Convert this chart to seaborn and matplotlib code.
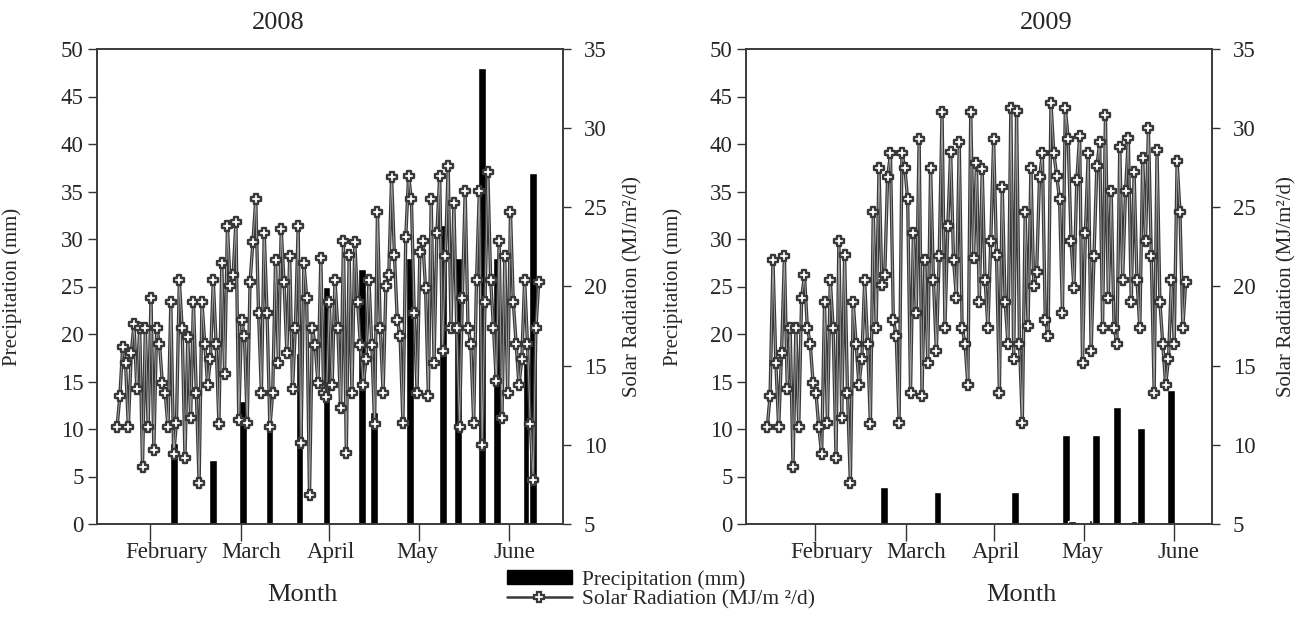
import numpy as np
import pandas as pd
import matplotlib
matplotlib.use("Agg")
import matplotlib.pyplot as plt
import seaborn as sns
from matplotlib.patches import Patch
from matplotlib.lines import Line2D

# daily solar radiation (MJ/m2/d) left to right
solar_2008 = [
    11.1, 13.1, 16.2, 15.2, 11.1, 15.8, 17.6, 13.5, 17.4, 8.6, 17.4, 11.1, 19.3, 9.7,
    17.4, 16.4, 13.9, 13.3, 11.1, 19.0, 9.4, 11.4, 20.4, 17.4, 9.2, 16.8, 11.7, 19.0,
    13.3, 7.6, 19.0, 16.4, 13.8, 15.4, 20.4, 16.4, 11.3, 21.5, 14.5, 23.8, 20.0, 20.7,
    24.1, 11.6, 17.9, 16.9, 11.4, 20.3, 22.8, 25.5, 18.3, 13.3, 23.4, 18.3, 11.1, 13.3,
    21.7, 15.2, 23.6, 20.3, 15.8, 21.9, 13.5, 17.4, 23.8, 10.1, 21.5, 19.3, 6.8, 17.4,
    16.3, 13.9, 21.8,
    13.3, 13.0, 19.0, 13.8, 20.4, 17.4, 12.3, 22.9, 9.5, 22.0, 13.3, 22.8, 19.0, 16.3,
    13.8, 15.4, 20.4, 16.3, 11.3, 24.7, 17.4, 13.3, 20.0, 20.7, 26.9, 22.0, 17.9, 16.9,
    11.4, 23.1, 27.0, 25.5, 18.3, 13.3, 22.2, 22.9, 19.9, 13.1, 25.5, 15.2, 23.4, 27.0,
    15.9, 21.9, 27.6, 17.4, 25.3, 17.4, 11.1, 19.3, 26.0, 17.4, 16.4, 11.4, 20.4, 26.0,
    10.0, 19.0, 27.2, 20.4, 17.4, 14.0, 22.9, 11.7, 21.9, 13.3, 24.7, 19.0, 16.4, 13.8,
    15.4, 20.4, 16.4, 11.3, 7.8, 17.4, 20.3,
]
solar_2009 = [
    11.1, 13.1, 21.7, 15.2, 11.1, 15.8, 21.9, 13.5, 17.4, 8.6, 17.4, 11.1, 19.3, 20.7,
    17.4, 16.4, 13.9, 13.3, 11.1, 9.4, 19.0, 11.4, 20.4, 17.4, 9.2, 22.9, 11.7, 22.0,
    13.3, 7.6, 19.0, 16.4, 13.8, 15.4, 20.4, 16.4, 11.3, 24.7, 17.4, 27.5, 20.1, 20.7,
    26.9, 28.4, 17.9, 16.9, 11.4, 28.4, 27.5, 25.5, 13.3, 23.4, 18.3, 29.3, 13.1, 21.7,
    15.2, 27.5, 20.4, 15.9, 21.9, 31.0, 17.4, 23.8, 28.5, 21.7, 19.3, 29.1, 17.4, 16.4,
    13.8, 31.0, 21.8, 27.8, 19.0, 27.4, 20.4, 17.4,
    22.9, 29.3, 22.0, 13.3, 26.3, 19.0, 16.4, 31.3, 15.4, 31.1, 16.4, 11.4, 24.7, 17.5,
    27.5, 20.0, 20.9, 26.9, 28.4, 17.9, 16.9, 31.6, 28.4, 27.0, 25.5, 18.3, 31.3, 29.3,
    22.9, 19.9, 26.7, 29.5, 15.2, 23.4, 28.4, 15.9, 21.9, 27.6, 29.1, 17.4, 30.8, 19.3,
    26.0, 17.4, 16.4, 28.8, 20.4, 26.0, 29.4, 19.0, 27.2, 20.4, 17.4, 28.1, 22.9, 30.0,
    21.9, 13.3, 28.6, 19.0, 16.4, 13.8, 15.4, 20.4, 16.4, 27.9, 24.7, 17.4, 20.3,
]
solar_span_2008 = ["2008-01-21", "2008-06-10"]
solar_span_2009 = ["2009-01-16", "2009-06-05"]

# precipitation events (mm)
rain_dates_2008 = ["2008-02-09", "2008-02-22", "2008-03-03", "2008-03-12", "2008-03-22",
                   "2008-03-31", "2008-04-12", "2008-04-16", "2008-04-28", "2008-05-09",
                   "2008-05-14", "2008-05-22", "2008-05-27", "2008-06-06", "2008-06-08"]
rain_2008 = [8.5, 6.7, 13.0, 10.8, 18.0, 25.0, 26.8, 11.8, 28.0, 31.5, 28.0, 48.0, 28.0, 17.0, 37.0]
rain_dates_2009 = ["2009-02-24", "2009-03-14", "2009-04-09", "2009-04-26", "2009-04-28",
                   "2009-05-05", "2009-05-06", "2009-05-13", "2009-05-19", "2009-05-21",
                   "2009-05-31"]
rain_2009 = [3.9, 3.4, 3.4, 9.4, 0.3, 0.4, 9.4, 12.3, 0.3, 10.1, 14.1]

month_labels = ["February", "March", "April", "May", "June"]

sns.set_style("ticks")
plt.rcParams["font.family"] = ["Liberation Serif", "DejaVu Serif"]

line_col = "#383838"
W, H = 1297, 618
fig = plt.figure(figsize=(W / 100, H / 100), dpi=100)

panels = [
    dict(year="2008", solar=solar_2008, span=solar_span_2008, rd=rain_dates_2008, rv=rain_2008,
         left=97, xlim=(14.3, 170.1), title_x=278, month_x=302, ylab=-0.161, y2lab=1.13),
    dict(year="2009", solar=solar_2009, span=solar_span_2009, rd=rain_dates_2009, rv=rain_2009,
         left=746, xlim=(8.9, 164.8), title_x=1046, month_x=1021, ylab=-0.135, y2lab=1.14),
]
tick_pos = [32, 62.5, 92, 122, 152]
label_pos = [37.7, 65.8, 92.5, 121.5, 153.7]

for p in panels:
    ax = fig.add_axes([p["left"] / W, 1 - 524 / H, 466 / W, 475 / H])
    days = pd.to_datetime(p["rd"]).dayofyear
    ax.bar(days, p["rv"], width=2.6, color="black", zorder=2)
    ax.set_xlim(*p["xlim"])
    ax.set_ylim(0, 50)
    ax.set_yticks(range(0, 51, 5))
    ax.set_xticks(tick_pos)
    ax.set_xticklabels([])
    ax.set_xticks(label_pos, minor=True)
    ax.set_xticklabels(month_labels, minor=True)
    ax.tick_params(axis="x", which="major", length=12, width=1, color="#333333")
    ax.tick_params(axis="x", which="minor", length=0, pad=13, labelsize=16.5)
    ax.tick_params(axis="y", length=6.5, width=1, pad=3, labelsize=16.5, color="#333333")
    ax.set_ylabel("Precipitation (mm)", fontsize=15)
    ax.yaxis.set_label_coords(p["ylab"], 0.5)
    ax.set_xlabel("")

    ax2 = ax.twinx()
    s0, s1 = pd.to_datetime(p["span"]).dayofyear
    df = pd.DataFrame({"day": np.linspace(s0, s1, len(p["solar"])), "rad": p["solar"]})
    sns.lineplot(data=df, x="day", y="rad", ax=ax2, color=line_col, lw=2.4,
                 sort=False, estimator=None)
    sns.lineplot(data=df, x="day", y="rad", ax=ax2, color="#a0a0a0", lw=0.7,
                 sort=False, estimator=None)
    sns.scatterplot(data=df, x="day", y="rad", ax=ax2, marker="P", s=60,
                    facecolor="white", edgecolor=line_col, linewidth=1.7, zorder=5)
    ax2.set_ylim(5, 35)
    ax2.set_yticks(range(5, 36, 5))
    ax2.set_xlim(*p["xlim"])
    ax2.tick_params(axis="y", length=6, width=1, pad=9, labelsize=16.5, color="#333333")
    ax2.set_ylabel("Solar Radiation (MJ/m²/d)", fontsize=15)
    ax2.yaxis.set_label_coords(p["y2lab"], 0.5)
    ax2.set_xlabel("")

    for a in (ax, ax2):
        for sp in a.spines.values():
            sp.set_visible(True)
            sp.set_color("#3a3a3a")
            sp.set_linewidth(1.2)

    fig.text(p["title_x"] / W, 1 - 23 / H, p["year"], ha="center", va="center", fontsize=19)
    fig.text(p["month_x"] / W, 1 - 595 / H, "Month", ha="center", va="center", fontsize=19)

handles = [
    Patch(facecolor="black", edgecolor="black"),
    Line2D([], [], color=line_col, lw=1.8, marker="P", markersize=7.5,
           markerfacecolor="white", markeredgecolor=line_col, markeredgewidth=1.6),
]
fig.legend(handles, ["Precipitation (mm)", "Solar Radiation (MJ/m ²/d)"],
           loc="upper left", bbox_to_anchor=(507 / W, 1 - 570 / H), frameon=False,
           fontsize=15.5, handlelength=3.0, handleheight=0.6, handletextpad=0.5,
           labelspacing=0.0, borderaxespad=0, borderpad=0)

fig.savefig("out.png", dpi=100)
